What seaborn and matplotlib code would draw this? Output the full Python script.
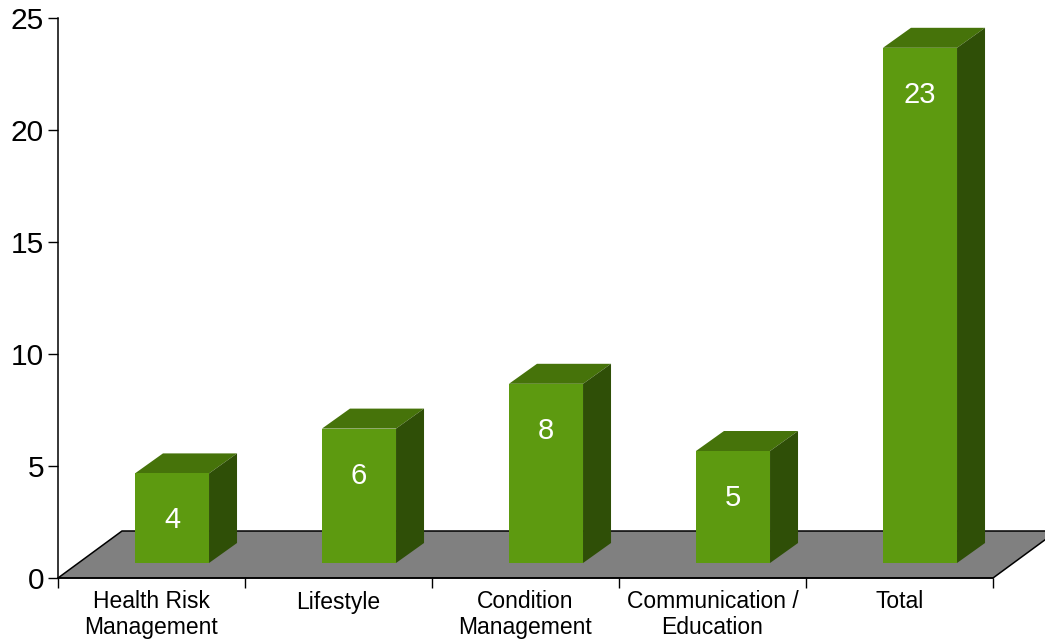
import matplotlib
matplotlib.use("Agg")
import matplotlib.pyplot as plt
from matplotlib.patches import Polygon
import seaborn as sns
import pandas as pd

categories = ["Health Risk\nManagement", "Lifestyle", "Condition\nManagement",
              "Communication /\nEducation", "Total"]
counts = [4, 6, 8, 5, 23]
y_ticks = [0, 5, 10, 15, 20, 25]

FRONT = "#5D9A10"
TOP = "#46730A"
SIDE = "#2F4F07"
FLOOR = "#808080"

sns.set_style("ticks")
plt.rcParams["font.family"] = ["Liberation Sans", "DejaVu Sans"]
plt.rcParams["text.color"] = "black"
plt.rcParams["xtick.labelcolor"] = "black"
plt.rcParams["ytick.labelcolor"] = "black"

W, H = 1045, 641
fig = plt.figure(figsize=(W / 100, H / 100), dpi=100)
ax = fig.add_axes([58 / W, (H - 578) / H, (993 - 58) / W, (578 - 18) / H])

df = pd.DataFrame({"category": categories, "count": counts})
sns.barplot(data=df, x="category", y="count", order=categories, color=FRONT,
            width=0.396, saturation=1, ax=ax, zorder=3, linewidth=0)
bars = list(ax.patches)

ax.set_xlim(-0.5, len(categories) - 0.5)
ax.set_ylim(0, 25)

# perspective offsets in data units (x: category units, y: value units)
ux = len(categories) / (993 - 58)
uy = 25 / (578 - 18)
floor_dx, floor_dy = 64 * ux, 47 * uy
base_dx, base_dy = 20.5 * ux, 15 * uy
depth_dx, depth_dy = 28 * ux, 20 * uy

# floor plane
x0, x1 = ax.get_xlim()
floor = Polygon([(x0, 0), (x1, 0), (x1 + floor_dx, floor_dy), (x0 + floor_dx, floor_dy)],
                closed=True, facecolor=FLOOR, edgecolor="black", linewidth=1.1,
                zorder=1, clip_on=False)
ax.add_patch(floor)

# lift bars onto the floor and add top / side faces
for p, v in zip(bars, counts):
    p.set_x(p.get_x() + base_dx)
    p.set_y(base_dy)
    xl = p.get_x()
    xr = xl + p.get_width()
    yb = p.get_y()
    yt = yb + p.get_height()
    top = Polygon([(xl, yt), (xr, yt), (xr + depth_dx, yt + depth_dy), (xl + depth_dx, yt + depth_dy)],
                  closed=True, facecolor=TOP, edgecolor="none", zorder=2.5, clip_on=False)
    side = Polygon([(xr, yb), (xr + depth_dx, yb + depth_dy), (xr + depth_dx, yt + depth_dy), (xr, yt)],
                   closed=True, facecolor=SIDE, edgecolor="none", zorder=2.5, clip_on=False)
    ax.add_patch(top)
    ax.add_patch(side)
    ax.annotate(f"{v}", xy=(xl + p.get_width() / 2, yt), xytext=(0, -47),
                textcoords="offset pixels", ha="center", va="center",
                color="white", fontsize=21, zorder=4)

ax.set_yticks(y_ticks)
ax.set_xlabel("")
ax.set_ylabel("")
ax.tick_params(axis="y", length=7, width=1, pad=3, labelsize=21.5,
               color="black", labelcolor="black")
ax.tick_params(axis="x", which="major", length=0, pad=9, labelsize=16.5,
               labelcolor="black")
ax.set_xticks([i - 0.5 for i in range(len(categories) + 1)], minor=True)
ax.tick_params(axis="x", which="minor", length=7, width=1, color="black")
for lbl in ax.get_xticklabels():
    lbl.set_linespacing(1.15)

sns.despine(ax=ax, top=True, right=True)
for s in ["left", "bottom"]:
    ax.spines[s].set_color("black")
    ax.spines[s].set_linewidth(1.1)
    ax.spines[s].set_zorder(5)

fig.savefig("out.png", dpi=100, facecolor="white")
